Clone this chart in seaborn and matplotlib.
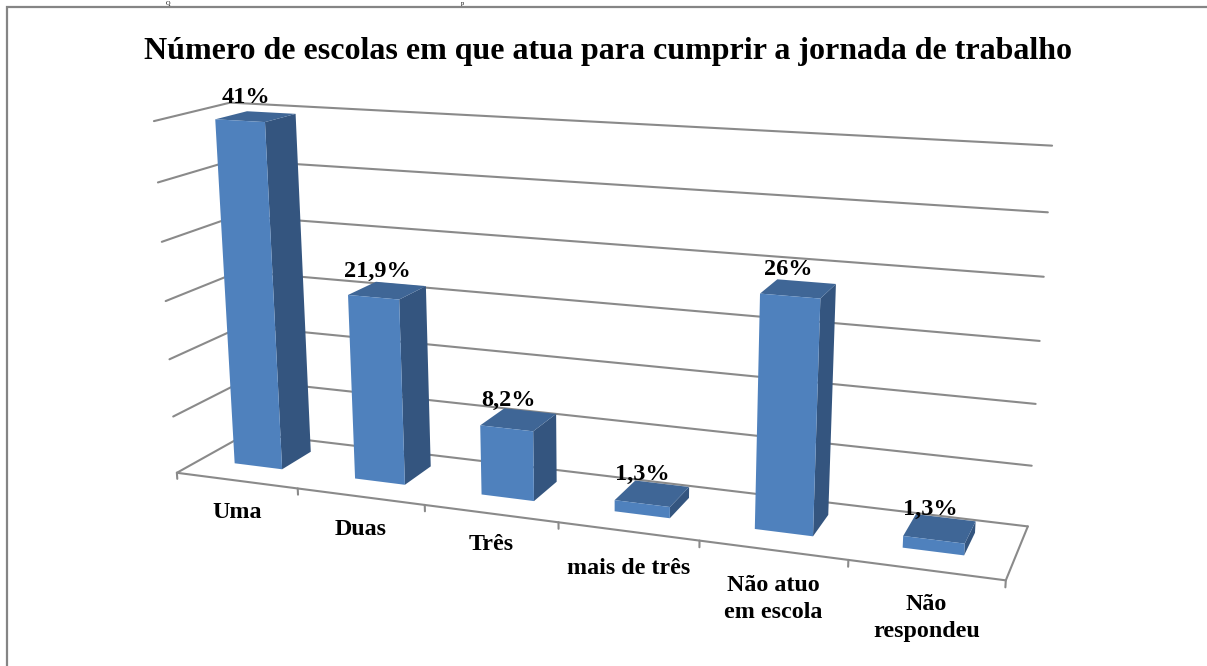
import numpy as np
import pandas as pd
import matplotlib
matplotlib.use("Agg")
import matplotlib.pyplot as plt
from matplotlib.patches import Polygon
from matplotlib.transforms import Transform
import seaborn as sns

# ---- data ----
categories = ["Uma", "Duas", "Três", "mais de três", "Não atuo\nem escola", "Não\nrespondeu"]
values = [41, 21.9, 8.2, 1.3, 26, 1.3]
value_labels = ["41%", "21,9%", "8,2%", "1,3%", "26%", "1,3%"]
title = "Número de escolas em que atua para cumprir a jornada de trabalho"
axis_ticks = [0, 6.9, 13.8, 20.7, 27.6, 34.4, 41.3]

# ---- layout / style ----
W, H = 1207, 666
C_FRONT, C_SIDE, C_TOP, C_GRID = "#4F81BD", "#34557F", "#3F6696", "#8A8A8A"
BAR_CENTER, BAR_WIDTH = 0.485, 0.40
Z_FRONT, Z_BACK = 0.33, 0.76
SERIF = "Liberation Serif"
label_nudge_px = [1, 2, 0, 6, 4, 3]

# camera: reference marks of the 3-D box (category, value, depth) -> pixel
TOP, NEXT = axis_ticks[-1], axis_ticks[-2]
calib = np.array([
    (0, 0, 0, 177, 471), (6, 0, 0, 1006, 578), (6, 0, 1, 1028, 526), (0, 0, 1, 248, 433),
    (0, TOP, 0, 154, 121), (0, TOP, 1, 230, 103), (6, TOP, 1, 1052, 146), (6, NEXT, 1, 1048, 212),
    (0, NEXT, 0, 158, 182), (1, 0, 0, 298, 488), (2, 0, 0, 425, 507), (3, 0, 0, 558, 523),
    (4, 0, 0, 699, 543),
], dtype=float)


def fit_camera(pts):
    s = np.array([6.0, TOP, 1.0])
    rows = []
    for x, v, z, u, w in pts:
        X = np.array([x / s[0], v / s[1], z / s[2], 1.0])
        u, w = u / 1000, w / 1000
        rows.append(np.r_[X, 0 * X, -u * X])
        rows.append(np.r_[0 * X, X, -w * X])
    P = np.linalg.svd(np.array(rows))[2][-1].reshape(3, 4)
    return P, s


P_N, SCALE = fit_camera(calib)


def project(x, v, z):
    x, v, z = np.broadcast_arrays(np.asarray(x, float), np.asarray(v, float), np.asarray(z, float))
    X = np.stack([x / SCALE[0], v / SCALE[1], z / SCALE[2], np.ones_like(x)], axis=-1)
    q = X @ P_N.T
    return q[..., :2] / q[..., 2:] * 1000


class Plane(Transform):
    """Category/value plane at a given depth, drawn in perspective."""
    input_dims = output_dims = 2
    is_affine = False

    def __init__(self, z):
        super().__init__()
        self.z = z

    def transform_non_affine(self, xy):
        xy = np.asarray(xy, float)
        return project(xy[:, 0], xy[:, 1], self.z)

    def inverted(self):
        raise NotImplementedError


sns.set_theme(style="white")
plt.rcParams["font.family"] = [SERIF, "DejaVu Serif"]

fig = plt.figure(figsize=(W / 100, H / 100), dpi=100, facecolor="white")
ax = fig.add_axes([0, 0, 1, 1])

df = pd.DataFrame({"pos": np.arange(len(values)) + BAR_CENTER, "value": values})
sns.barplot(data=df, x="pos", y="value", native_scale=True, width=BAR_WIDTH,
            color=C_FRONT, saturation=1, errorbar=None, linewidth=0, ax=ax, zorder=4)
ax.set_xlim(0, W)
ax.set_ylim(H, 0)
ax.set_axis_off()

# chart frame
ax.plot([7, 7, W], [H, 7, 7], color="#858585", lw=1.6, zorder=1, solid_joinstyle="miter")

# walls and floor
nx = len(categories)
for t in axis_ticks:
    pts = project([0, 0, nx], [t, t, t], [0, 1, 1])
    ax.plot(pts[:, 0], pts[:, 1], color=C_GRID, lw=1.5, zorder=2)
pts = project([0, nx, nx], [0, 0, 0], [0, 0, 1])
ax.plot(pts[:, 0], pts[:, 1], color=C_GRID, lw=1.5, zorder=2)
for i in range(nx + 1):
    pts = project([i, i], [0, -0.75], [0, 0])
    ax.plot(pts[:, 0], pts[:, 1], color=C_GRID, lw=1.5, zorder=2)

# bars: seaborn's rectangles are set into perspective, then given side and top
front = Plane(Z_FRONT)
for patch, label in zip(ax.patches, value_labels):
    x0, x1 = patch.get_x(), patch.get_x() + patch.get_width()
    v = patch.get_height()
    patch.set_transform(front + ax.transData)
    patch.set_clip_on(False)
    side = project([x1, x1, x1, x1], [0, v, v, 0], [Z_FRONT, Z_FRONT, Z_BACK, Z_BACK])
    top = project([x0, x1, x1, x0], [v, v, v, v], [Z_FRONT, Z_FRONT, Z_BACK, Z_BACK])
    ax.add_patch(Polygon(side, closed=True, fc=C_SIDE, ec="none", zorder=3))
    ax.add_patch(Polygon(top, closed=True, fc=C_TOP, ec="none", zorder=3))
    c = project((x0 + x1) / 2, v, (Z_FRONT + Z_BACK) / 2)
    ax.annotate(label, xy=c, xytext=(-7, 13.5), textcoords="offset points", ha="center",
                va="center", fontsize=17.5, fontweight="bold", color="black", zorder=6)

# category labels
for i, name in enumerate(categories):
    c = project(i + 0.5, 0, 0)
    ax.annotate(name, xy=c, xytext=(0.5, -15 - 0.72 * label_nudge_px[i]), textcoords="offset points",
                ha="center", va="top", fontsize=17.3, fontweight="bold", color="black",
                linespacing=1.36, zorder=6)

ax.text(608.5, 51, title, ha="center", va="center", fontsize=23,
        fontweight="bold", color="black", zorder=6)

# remnants of the line of text above the chart
ax.text(168, 1, "Q", ha="center", va="top", fontsize=4.5, color="black", zorder=6)
ax.text(462, 1, "p", ha="center", va="top", fontsize=4.5, color="black", zorder=6)

fig.savefig("out.png", dpi=100, facecolor="white")
